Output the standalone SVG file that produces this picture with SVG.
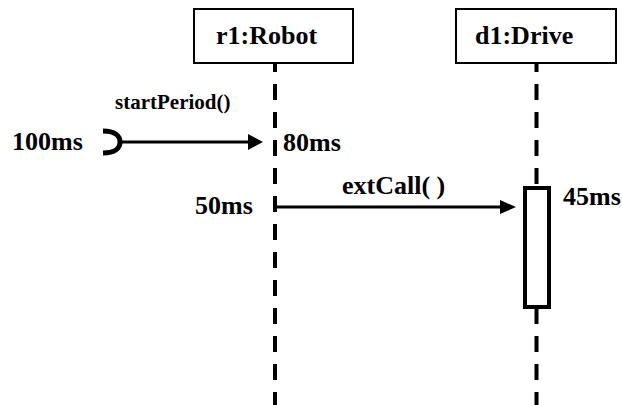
<svg xmlns="http://www.w3.org/2000/svg" width="622" height="405" viewBox="0 0 622 405">
<style>
  .box { fill: #fff; stroke: #000; stroke-width: 2; }
  .life { stroke: #000; stroke-width: 4; stroke-dasharray: 16 12; stroke-dashoffset: 8; fill: none; }
  .act { fill: #fff; stroke: #000; stroke-width: 4; }
  .msg { stroke: #000; stroke-width: 3; fill: none; }
</style>
<rect width="622" height="405" fill="#fff"/>
<g font-family="Liberation Serif, Times New Roman, serif" font-weight="bold" fill="#000">
<g id="robot">
  <line class="life" x1="275" y1="64" x2="275" y2="405"/>
  <rect class="box" x="194" y="9" width="159" height="54"/>
  <text font-size="26" x="216" y="44">r1:Robot</text>
</g>
<g id="drive">
  <line class="life" x1="536.5" y1="64" x2="536.5" y2="405"/>
  <rect class="box" x="456" y="9" width="160" height="54"/>
  <text font-size="26" x="475" y="44">d1:Drive</text>
</g>
<g id="activation">
  <rect class="act" x="525" y="188" width="24" height="119"/>
</g>
<g id="connectors">
  <path d="M103,131 C115,131 120,136 120,142 C120,148 115,153 103,153" fill="none" stroke="#000" stroke-width="5"/>
  <line class="msg" x1="119" y1="142" x2="250" y2="142"/>
  <polygon points="248,134 263,142 248,150" fill="#000"/>
  <line class="msg" x1="275" y1="207" x2="502" y2="207"/>
  <polygon points="500,200 516,207 500,214" fill="#000"/>
</g>
<g id="labels">
  <text font-size="21" x="115" y="109">startPeriod()</text>
  <text font-size="26" x="12" y="150">100ms</text>
  <text font-size="26" x="283" y="151">80ms</text>
  <text font-size="26" x="195" y="214">50ms</text>
  <text font-size="26" x="342" y="194">extCall( )</text>
  <text font-size="26" x="563" y="205">45ms</text>
</g>
</g>
</svg>
